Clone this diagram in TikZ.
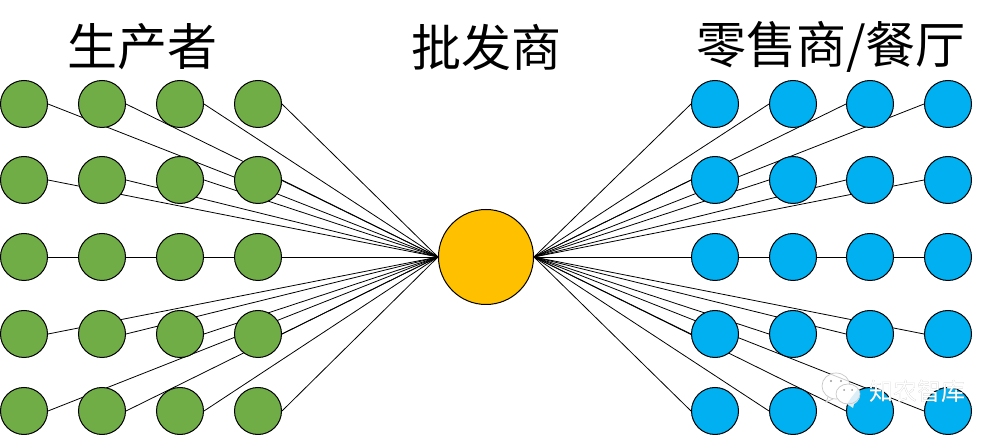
\documentclass[tikz,border=0pt]{standalone}
\usepackage{fontspec}
\setmainfont{Liberation Sans}
\newfontfamily\cjk{Noto Sans CJK SC}
\usetikzlibrary{backgrounds,calc}
\definecolor{prodgreen}{HTML}{70AD47}
\definecolor{retailblue}{HTML}{00B0F0}
\definecolor{hubgold}{HTML}{FFC000}
\definecolor{paleblue}{HTML}{DCEEF8}
\tikzset{
  x=1pt,y=-1pt,
  dot/.style={circle,draw=black,line width=1pt,minimum size=47pt,inner sep=0pt},
  prod/.style={dot,fill=prodgreen},
  retail/.style={dot,fill=retailblue},
  hub/.style={circle,draw=black,line width=1pt,fill=hubgold,minimum size=95pt,inner sep=0pt},
  link/.style={draw=black,line width=0.8pt},
  title/.style={font=\cjk\fontsize{50}{50}\selectfont,inner sep=0pt,anchor=center},
  wmark/.style={font=\cjk\fontsize{24}{24}\selectfont,inner sep=0pt,anchor=center},
  bubble/.style={draw=black!22,line width=0.7pt},
  eye/.style={fill=black!40}
}
\begin{document}
\begin{tikzpicture}
\useasboundingbox (0,0) rectangle (996,435);
\node[hub] (H) at (486,257) {};
\foreach \r/\y in {1/104,2/180,3/257,4/334,5/411}{
  \foreach \c/\x in {1/24,2/102,3/180,4/258}{
    \node[prod] (P\r\c) at (\x,\y) {};
  }
  \foreach \c/\x in {1/715,2/793,3/870,4/948}{
    \node[retail] (R\r\c) at (\x,\y) {};
  }
}
\begin{scope}[on background layer]
\fill[white] (0,0) rectangle (996,435);
\foreach \r in {1,...,5}{
  \foreach \c in {1,...,4}{
    \draw[link] (P\r\c.east) -- (H.west);
    \draw[link] (R\r\c.west) -- (H.east);
  }
}
\end{scope}
\node[title] (T1) at (142,47) {生产者};
\node[title] (T2) at (486,47) {批发商};
\node[title] (T3) at (831,47) {零售商/餐厅};
% watermark
\fill[white,fill opacity=0.8] (836,386) ellipse (14 and 13);
\draw[bubble] (836,386) ellipse (14 and 13);
\draw[bubble] (828,397) -- (826,402) -- (833,399);
\fill[eye] (831,381) circle (1.1);
\fill[eye] (841,381) circle (1.1);
\fill[white] (848,394) ellipse (12 and 10);
\fill[paleblue] (858,389) -- (860,396) .. controls (859,401) and (856,403) .. (854,404) -- (853,408) -- (847,404) -- (851,398) -- cycle;
\draw[bubble] (848,394) ellipse (12 and 10);
\fill[eye] (844,390) circle (1);
\fill[eye] (852,390) circle (1);
\node[wmark,text=black!35] (W0) at (917.7,391.7) {知农智库};
\node[wmark,text=white] (W1) at (917,391) {知农智库};
\end{tikzpicture}
\end{document}
